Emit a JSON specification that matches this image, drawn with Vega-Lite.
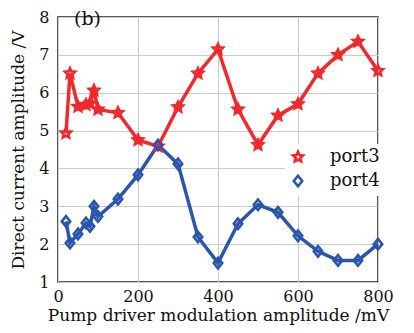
{
  "$schema": "https://vega.github.io/schema/vega-lite/v6.json",
  "width": 320,
  "height": 265,
  "autosize": "none",
  "padding": {"left": 58, "top": 17, "right": 36, "bottom": 51},
  "background": "white",
  "title": {
    "text": "(b)",
    "orient": "top",
    "anchor": "start",
    "frame": "group",
    "font": "DejaVu Serif",
    "fontSize": 19,
    "fontWeight": "normal",
    "color": "#111111",
    "baseline": "middle",
    "offset": 0,
    "dx": 16,
    "dy": 29
  },
  "config": {
    "font": "DejaVu Serif",
    "view": {"stroke": "#222222", "strokeWidth": 1.5},
    "axis": {
      "labelFont": "DejaVu Serif",
      "titleFont": "DejaVu Serif",
      "labelFontSize": 16,
      "titleFontSize": 17,
      "titleFontWeight": "normal",
      "labelColor": "#111111",
      "titleColor": "#111111",
      "gridColor": "#cccccc",
      "gridWidth": 1,
      "labelFlush": false,
      "domain": false,
      "ticks": false
    }
  },
  "data": {
    "values": [
      {"mv": 20, "amp": 4.93, "port": "port3"},
      {"mv": 30, "amp": 6.51, "port": "port3"},
      {"mv": 50, "amp": 5.63, "port": "port3"},
      {"mv": 70, "amp": 5.68, "port": "port3"},
      {"mv": 80, "amp": 5.72, "port": "port3"},
      {"mv": 90, "amp": 6.06, "port": "port3"},
      {"mv": 100, "amp": 5.56, "port": "port3"},
      {"mv": 150, "amp": 5.47, "port": "port3"},
      {"mv": 200, "amp": 4.75, "port": "port3"},
      {"mv": 250, "amp": 4.58, "port": "port3"},
      {"mv": 300, "amp": 5.62, "port": "port3"},
      {"mv": 350, "amp": 6.51, "port": "port3"},
      {"mv": 400, "amp": 7.15, "port": "port3"},
      {"mv": 450, "amp": 5.56, "port": "port3"},
      {"mv": 500, "amp": 4.62, "port": "port3"},
      {"mv": 550, "amp": 5.4, "port": "port3"},
      {"mv": 600, "amp": 5.7, "port": "port3"},
      {"mv": 650, "amp": 6.51, "port": "port3"},
      {"mv": 700, "amp": 7.0, "port": "port3"},
      {"mv": 750, "amp": 7.35, "port": "port3"},
      {"mv": 800, "amp": 6.58, "port": "port3"},
      {"mv": 20, "amp": 2.6, "port": "port4"},
      {"mv": 30, "amp": 2.03, "port": "port4"},
      {"mv": 50, "amp": 2.27, "port": "port4"},
      {"mv": 70, "amp": 2.56, "port": "port4"},
      {"mv": 80, "amp": 2.47, "port": "port4"},
      {"mv": 90, "amp": 3.0, "port": "port4"},
      {"mv": 100, "amp": 2.73, "port": "port4"},
      {"mv": 150, "amp": 3.19, "port": "port4"},
      {"mv": 200, "amp": 3.83, "port": "port4"},
      {"mv": 250, "amp": 4.62, "port": "port4"},
      {"mv": 300, "amp": 4.12, "port": "port4"},
      {"mv": 350, "amp": 2.19, "port": "port4"},
      {"mv": 400, "amp": 1.5, "port": "port4"},
      {"mv": 450, "amp": 2.54, "port": "port4"},
      {"mv": 500, "amp": 3.04, "port": "port4"},
      {"mv": 550, "amp": 2.84, "port": "port4"},
      {"mv": 600, "amp": 2.22, "port": "port4"},
      {"mv": 650, "amp": 1.81, "port": "port4"},
      {"mv": 700, "amp": 1.57, "port": "port4"},
      {"mv": 750, "amp": 1.57, "port": "port4"},
      {"mv": 800, "amp": 2.0, "port": "port4"}
    ]
  },
  "encoding": {
    "x": {
      "field": "mv",
      "type": "quantitative",
      "scale": {"domain": [0, 800], "nice": false},
      "axis": {"values": [0, 200, 400, 600, 800], "labelPadding": 6, "titlePadding": 3, "title": "Pump driver modulation amplitude /mV"}
    },
    "y": {
      "field": "amp",
      "type": "quantitative",
      "scale": {"domain": [1, 8], "nice": false},
      "axis": {"values": [1, 2, 3, 4, 5, 6, 7, 8], "labelPadding": 9, "titlePadding": 11, "title": "Direct current amplitude /V"}
    },
    "color": {
      "field": "port",
      "type": "nominal",
      "scale": {"domain": ["port3", "port4"], "range": ["#f2282c", "#2a55ae"]},
      "legend": {
        "orient": "none",
        "legendX": 227,
        "legendY": 127,
        "padding": 4,
        "fillColor": "white",
        "title": null,
        "labelFont": "DejaVu Serif",
        "labelFontSize": 18,
        "labelColor": "#111111",
        "labelOffset": 23,
        "symbolSize": 110,
        "rowPadding": 3,
        "symbolStrokeWidth": 2.6
      }
    }
  },
  "layer": [
    {
      "mark": {"type": "line", "strokeWidth": 3.5},
      "encoding": {}
    },
    {
      "mark": {"type": "point", "filled": false, "strokeWidth": 2.6, "size": 110, "opacity": 1},
      "encoding": {
        "shape": {
          "field": "port",
          "type": "nominal",
          "scale": {
            "domain": ["port3", "port4"],
            "range": [
              "M0,-1L0.28,-0.38L0.95,-0.31L0.45,0.15L0.59,0.81L0,0.48L-0.59,0.81L-0.45,0.15L-0.95,-0.31L-0.28,-0.38Z",
              "M0,-1L0.8,0L0,1L-0.8,0Z"
            ]
          }
        }
      }
    }
  ]
}
